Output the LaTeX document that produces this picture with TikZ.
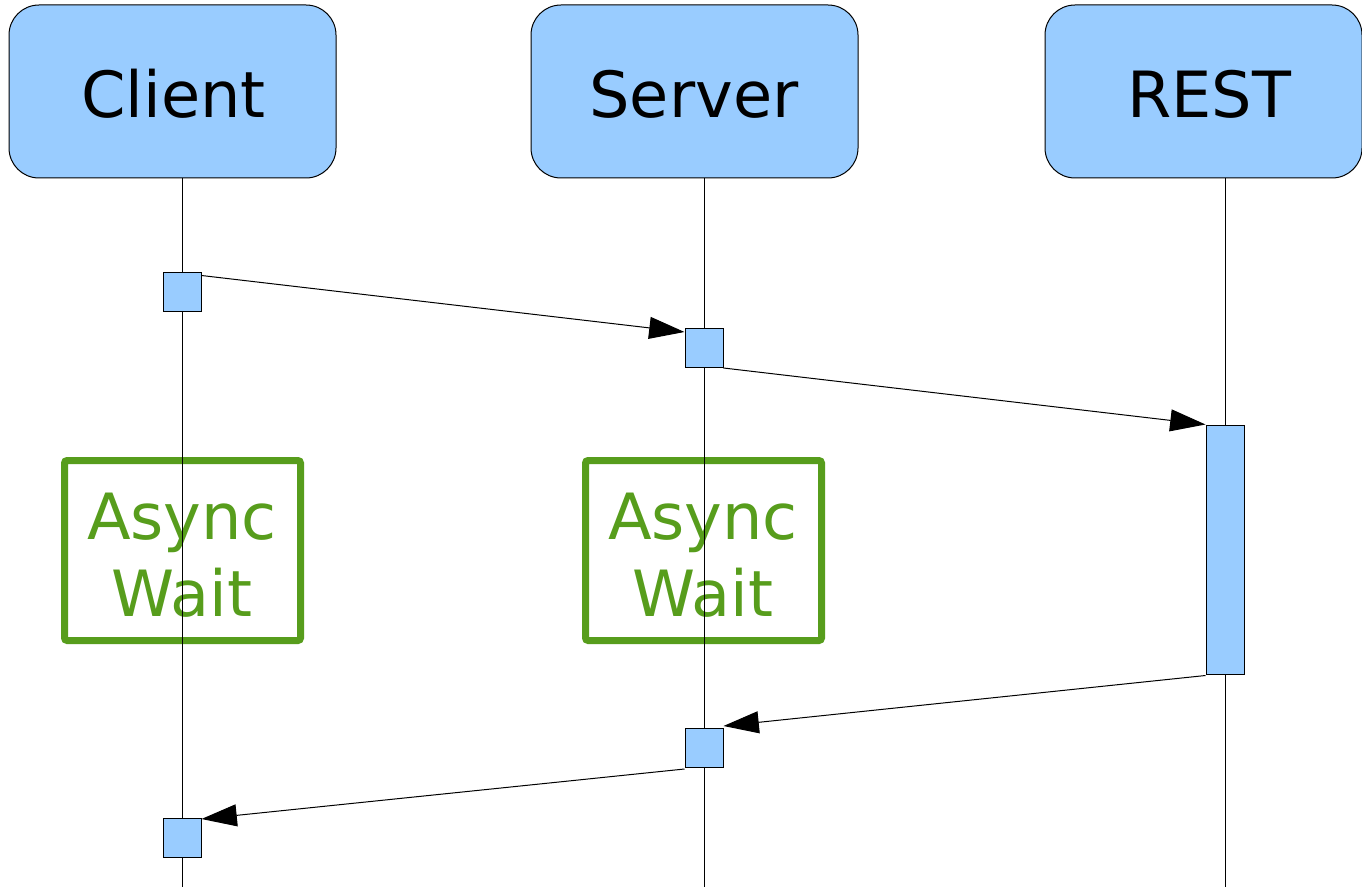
\documentclass[tikz,border=0pt]{standalone}
\usepackage{fontspec}
\setmainfont{DejaVu Sans}
\usetikzlibrary{arrows.meta,calc}
\definecolor{boxblue}{HTML}{99CCFF}
\definecolor{waitgreen}{HTML}{579D1C}
\begin{document}
\begin{tikzpicture}[x=0.75pt,y=-0.75pt,
  bigfont/.style={font=\fontsize{47.8}{57.75}\selectfont},
  head/.style={draw=black, line width=0.75pt, fill=boxblue, rounded corners=22.5pt,
    minimum width=245.25pt, minimum height=129.75pt, inner sep=0pt},
  act/.style={draw=black, line width=0.75pt, fill=boxblue,
    minimum width=28.5pt, minimum height=29.25pt, inner sep=0pt},
  waitbox/.style={draw=waitgreen, line width=5.25pt, rounded corners=2pt,
    minimum width=177pt, minimum height=135pt, inner sep=0pt},
  waittext/.style={text=waitgreen, align=center, inner sep=0pt, bigfont},
  life/.style={draw=black, line width=0.75pt},
  msg/.style={draw=black, line width=0.75pt, -{Triangle[length=26.5pt,width=16.5pt]}}]
\useasboundingbox (0,0) rectangle (1362,887);
\fill[white] (0,0) rectangle (1362,887);
% heads
\node[head] (chead) at (172.5,91.5) {};
\node[bigfont, inner sep=0pt] (clabel) at (173.5,94) {Client};
\node[head] (shead) at (694.5,91.5) {};
\node[bigfont, inner sep=0pt] (slabel) at (694,94) {Server};
\node[head, minimum width=237.75pt] (rhead) at (1203.5,91.5) {};
\node[bigfont, inner sep=0pt] (rlabel) at (1209,94) {REST};
% wait boxes
\node[waitbox] (cwait) at (182.5,550.5) {};
\node[waittext] (cwaitlbl) at (182,555) {Async\\Wait};
\node[waitbox] (swait) at (703.5,550.5) {};
\node[waittext] (swaitlbl) at (703,555) {Async\\Wait};
% lifelines
\coordinate (ctop) at (182,178);
\coordinate (cend) at (182,887);
\coordinate (stop) at (704,178);
\coordinate (send) at (704,887);
\coordinate (rtop) at (1225,178);
\coordinate (rend) at (1225,887);
\draw[life] (ctop) -- (cend);
\draw[life] (stop) -- (send);
\draw[life] (rtop) -- (rend);
% activations
\node[act] (c1) at (182,292.5) {};
\node[act] (s1) at (704,348) {};
\node[act, minimum height=186.75pt] (r1) at (1225,549.5) {};
\node[act] (s2) at (704,748) {};
\node[act] (c2) at (182,838) {};
% messages
\draw[msg] ($(c1.north east)+(0,3)$) -- ($(s1.north west)+(0,4)$);
\draw[msg] ($(s1.south east)+(0,0)$) -- ($(r1.north west)+(0,0)$);
\draw[msg] ($(r1.south west)+(0,1)$) -- ($(s2.north east)+(0,-2)$);
\draw[msg] ($(s2.south west)+(0,1)$) -- ($(c2.north east)+(0,1)$);
\end{tikzpicture}
\end{document}
